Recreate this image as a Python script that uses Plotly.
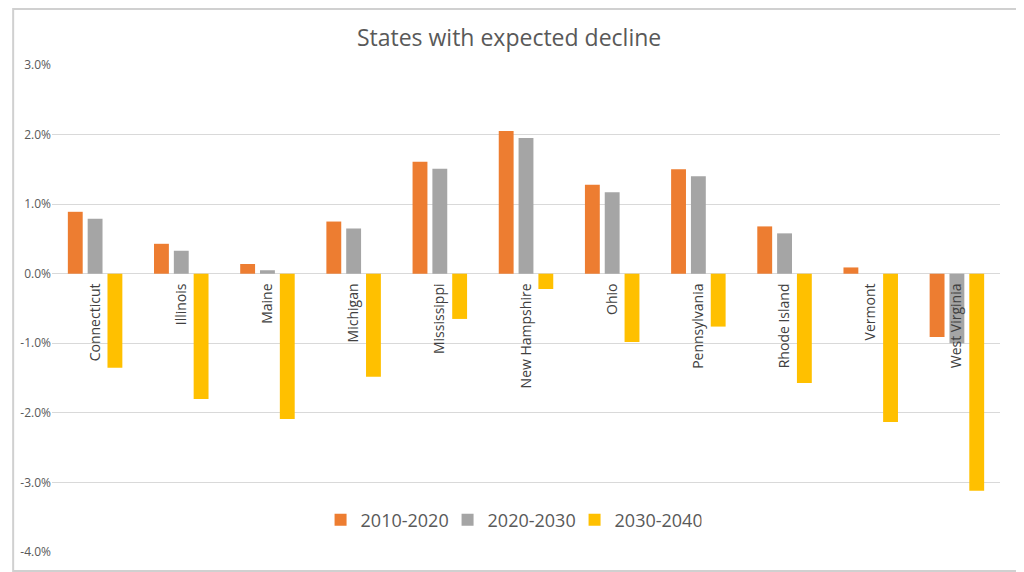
import plotly.graph_objects as go

states = ["Connecticut", "Illinois", "Maine", "Michigan", "Mississippi", "New Hampshire",
          "Ohio", "Pennsylvania", "Rhode Island", "Vermont", "West Virginia"]
s2010_2020 = [0.89, 0.43, 0.14, 0.75, 1.61, 2.05, 1.28, 1.50, 0.68, 0.09, -0.91]
s2020_2030 = [0.79, 0.33, 0.05, 0.65, 1.51, 1.95, 1.17, 1.40, 0.58, 0.00, -1.00]
s2030_2040 = [-1.35, -1.80, -2.09, -1.48, -0.65, -0.22, -0.98, -0.76, -1.57, -2.13, -3.12]
series_names = ["2010-2020", "2020-2030", "2030-2040"]
colors = ["#ED7D31", "#A5A5A5", "#FFC000"]
ytick_vals = [3, 2, 1, 0, -1, -2, -3, -4]
ytick_text = ["3.0%", "2.0%", "1.0%", "0.0%", "-1.0%", "-2.0%", "-3.0%", "-4.0%"]

fig = go.Figure()
for name, vals, c in zip(series_names, [s2010_2020, s2020_2030, s2030_2040], colors):
    fig.add_trace(go.Bar(x=states, y=vals, name=name, marker=dict(color=c, line=dict(width=0))))

# page body has an 8px default margin, so the figure is slightly smaller
W, H = 1016, 564
ml, mr, mt, mb = 40, 24, 57, 20
pw, ph = W - ml - mr, H - mt - mb
ymin, ymax = -4, 3
fig.update_layout(
    width=W, height=H,
    margin=dict(l=ml, r=mr, t=mt, b=mb),
    paper_bgcolor="white", plot_bgcolor="white",
    font=dict(family="Open Sans, Noto Sans, sans-serif", color="#595959"),
    title=dict(text="States with expected decline", x=(507 - 8 - ml) / pw, xanchor="center",
               xref="paper", y=1 - 30 / H, yanchor="middle",
               font=dict(size=23, color="#595959")),
    barmode="group", bargap=0.31, bargroupgap=0.25,
    showlegend=True,
    legend=dict(orientation="h", x=(509 - 8 - ml) / pw, xanchor="center", y=(552 - 520) / ph,
                yanchor="middle",
                font=dict(size=18, color="#595959"), bgcolor="rgba(0,0,0,0)",
                itemwidth=30, entrywidth=82, entrywidthmode="pixels"),
    xaxis=dict(anchor="free", position=(0 - ymin) / (ymax - ymin), tickangle=-90,
               showgrid=False, showline=False, ticks="", zeroline=False,
               tickfont=dict(size=14, color="#404040"), ticklabelstandoff=6),
    yaxis=dict(range=[ymin, ymax], tickvals=ytick_vals, ticktext=ytick_text,
               showgrid=True, gridcolor="#D9D9D9", gridwidth=1,
               zeroline=True, zerolinecolor="#D9D9D9", zerolinewidth=1,
               showline=False, ticks="",
               tickfont=dict(size=12, color="#595959")),
    shapes=[dict(type="rect", xref="paper", yref="paper", x0=-(ml - 1) / pw, x1=1 + (mr - 1) / pw,
                 y0=-(mb - 1) / ph, y1=1 + (mt - 1) / ph, line=dict(color="#D0D0D0", width=2))],
)

fig.write_html("out.html")
